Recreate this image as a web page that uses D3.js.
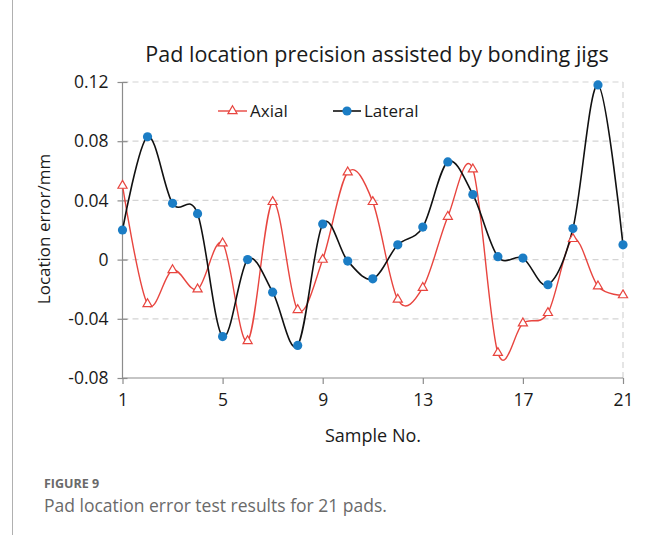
<!DOCTYPE html>
<html>
<head>
<meta charset="utf-8">
<script src="https://cdn.jsdelivr.net/npm/d3@7"></script>
<style>
  body { margin: 0; background: #fff; }
  svg { display: block; font-family: "Open Sans", "Noto Sans", sans-serif; }
</style>
</head>
<body>
<script>
// sample numbers 1..21
var samples = [1, 2, 3, 4, 5, 6, 7, 8, 9, 10, 11, 12, 13, 14, 15, 16, 17, 18, 19, 20, 21];
var axial = [0.050, -0.030, -0.007, -0.020, 0.011, -0.055, 0.039, -0.034, 0.000, 0.059, 0.039,
             -0.027, -0.019, 0.029, 0.061, -0.063, -0.043, -0.036, 0.014, -0.018, -0.024];
var lateral = [0.020, 0.083, 0.038, 0.031, -0.052, 0.000, -0.022, -0.058, 0.024, -0.001, -0.013,
               0.010, 0.022, 0.066, 0.044, 0.002, 0.001, -0.017, 0.021, 0.118, 0.010];
var xTicks = [1, 5, 9, 13, 17, 21];
var yTicks = [-0.08, -0.04, 0, 0.04, 0.08, 0.12];
var yTickLabels = ["-0.08", "-0.04", "0", "0.04", "0.08", "0.12"];

var W = 652, H = 535;
var red = "#e8453f", blue = "#1b7dc5";

var svg = d3.select("body").append("svg")
    .attr("width", W)
    .attr("height", H);

var x = d3.scaleLinear().domain([1, 21]).range([122.5, 623]);
var y = d3.scaleLinear().domain([-0.08, 0.12]).range([378, 82]);

// grid
svg.append("g").selectAll("line")
    .data(yTicks.filter(function(d) { return d > -0.08; }))
  .enter().append("line")
    .attr("x1", x(1)).attr("x2", x(21))
    .attr("y1", function(d) { return y(d); })
    .attr("y2", function(d) { return y(d); })
    .attr("stroke", "#d4d4d4")
    .attr("stroke-dasharray", "6,4")
    .attr("stroke-width", 1.2);

svg.append("line")
    .attr("x1", x(21)).attr("x2", x(21))
    .attr("y1", y(0.12)).attr("y2", y(-0.08))
    .attr("stroke", "#d4d4d4")
    .attr("stroke-dasharray", "6,4")
    .attr("stroke-width", 1.2);

// axes
var xAxis = d3.axisBottom(x).tickValues(xTicks).tickSize(6).tickPadding(10)
    .tickFormat(d3.format("d"));
var yAxis = d3.axisLeft(y).tickValues(yTicks).tickSize(5).tickPadding(9)
    .tickFormat(function(d, i) { return yTickLabels[i]; });

var gx = svg.append("g")
    .attr("transform", "translate(0," + y(-0.08) + ")")
    .call(xAxis);
var gy = svg.append("g")
    .attr("transform", "translate(" + x(1) + ",0)")
    .call(yAxis);

// cross ticks on y axis
gy.selectAll(".tick line").attr("x2", 5).attr("x1", -5);
[gx, gy].forEach(function(g) {
  g.select(".domain").attr("stroke", "#8c8c8c").attr("stroke-width", 1.2);
  g.selectAll(".tick line").attr("stroke", "#8c8c8c").attr("stroke-width", 1.2);
  g.selectAll(".tick text")
      .attr("fill", "#1a1a1a")
      .style("font-size", "17.5px")
      .style("font-family", "'Open Sans', 'Noto Sans', sans-serif");
});
gy.select(".domain").attr("d", "M0," + y(0.12) + "V" + y(-0.08));
gx.select(".domain").attr("d", "M" + x(1) + ",0H" + x(21));

// lines
var line = function(vals) {
  return d3.line()
      .curve(d3.curveCardinal.tension(0))
      .x(function(d, i) { return x(samples[i]); })
      .y(function(d) { return y(d); })(vals);
};

svg.append("path")
    .attr("d", line(axial))
    .attr("fill", "none")
    .attr("stroke", red)
    .attr("stroke-width", 1.4);

svg.append("path")
    .attr("d", line(lateral))
    .attr("fill", "none")
    .attr("stroke", "#111")
    .attr("stroke-width", 1.6);

var tri = d3.symbol().type(d3.symbolTriangle).size(36);

svg.append("g").selectAll("path")
    .data(axial)
  .enter().append("path")
    .attr("d", tri)
    .attr("transform", function(d, i) { return "translate(" + x(samples[i]) + "," + y(d) + ")"; })
    .attr("fill", "#fff")
    .attr("stroke", red)
    .attr("stroke-width", 1.2);

svg.append("g").selectAll("circle")
    .data(lateral)
  .enter().append("circle")
    .attr("cx", function(d, i) { return x(samples[i]); })
    .attr("cy", function(d) { return y(d); })
    .attr("r", 4.6)
    .attr("fill", blue);

// legend
var lg = svg.append("g");
lg.append("line").attr("x1", 218).attr("x2", 247).attr("y1", 111).attr("y2", 111)
    .attr("stroke", red).attr("stroke-width", 1.4);
lg.append("path").attr("d", tri).attr("transform", "translate(232.5,111)")
    .attr("fill", "#fff").attr("stroke", red).attr("stroke-width", 1.2);
lg.append("text").attr("x", 250).attr("y", 117).text("Axial")
    .style("font-size", "17px").attr("fill", "#1a1a1a");
lg.append("line").attr("x1", 333).attr("x2", 361).attr("y1", 111).attr("y2", 111)
    .attr("stroke", "#111").attr("stroke-width", 1.6);
lg.append("circle").attr("cx", 347).attr("cy", 111).attr("r", 4.6).attr("fill", blue);
lg.append("text").attr("x", 364).attr("y", 117).text("Lateral")
    .style("font-size", "17px").attr("fill", "#1a1a1a");

// title and axis labels
svg.append("text")
    .attr("x", 377).attr("y", 62)
    .attr("text-anchor", "middle")
    .style("font-size", "21.5px")
    .attr("fill", "#1a1a1a")
    .text("Pad location precision assisted by bonding jigs");

svg.append("text")
    .attr("transform", "translate(50,229) rotate(-90)")
    .attr("text-anchor", "middle")
    .style("font-size", "17px")
    .attr("fill", "#1a1a1a")
    .text("Location error/mm");

svg.append("text")
    .attr("x", 373).attr("y", 442)
    .attr("text-anchor", "middle")
    .style("font-size", "18px")
    .attr("fill", "#1a1a1a")
    .text("Sample No.");

// figure caption
svg.append("line")
    .attr("x1", 12.5).attr("x2", 12.5).attr("y1", 0).attr("y2", H)
    .attr("stroke", "#b0b0b0").attr("stroke-width", 1);

svg.append("text")
    .attr("x", 44).attr("y", 488)
    .style("font-size", "12.5px")
    .style("font-weight", "bold")
    .attr("fill", "#6a6a6a")
    .text("FIGURE 9");

svg.append("text")
    .attr("x", 44).attr("y", 512)
    .style("font-size", "17.5px")
    .attr("fill", "#6a6a6a")
    .text("Pad location error test results for 21 pads.");
</script>
</body>
</html>
